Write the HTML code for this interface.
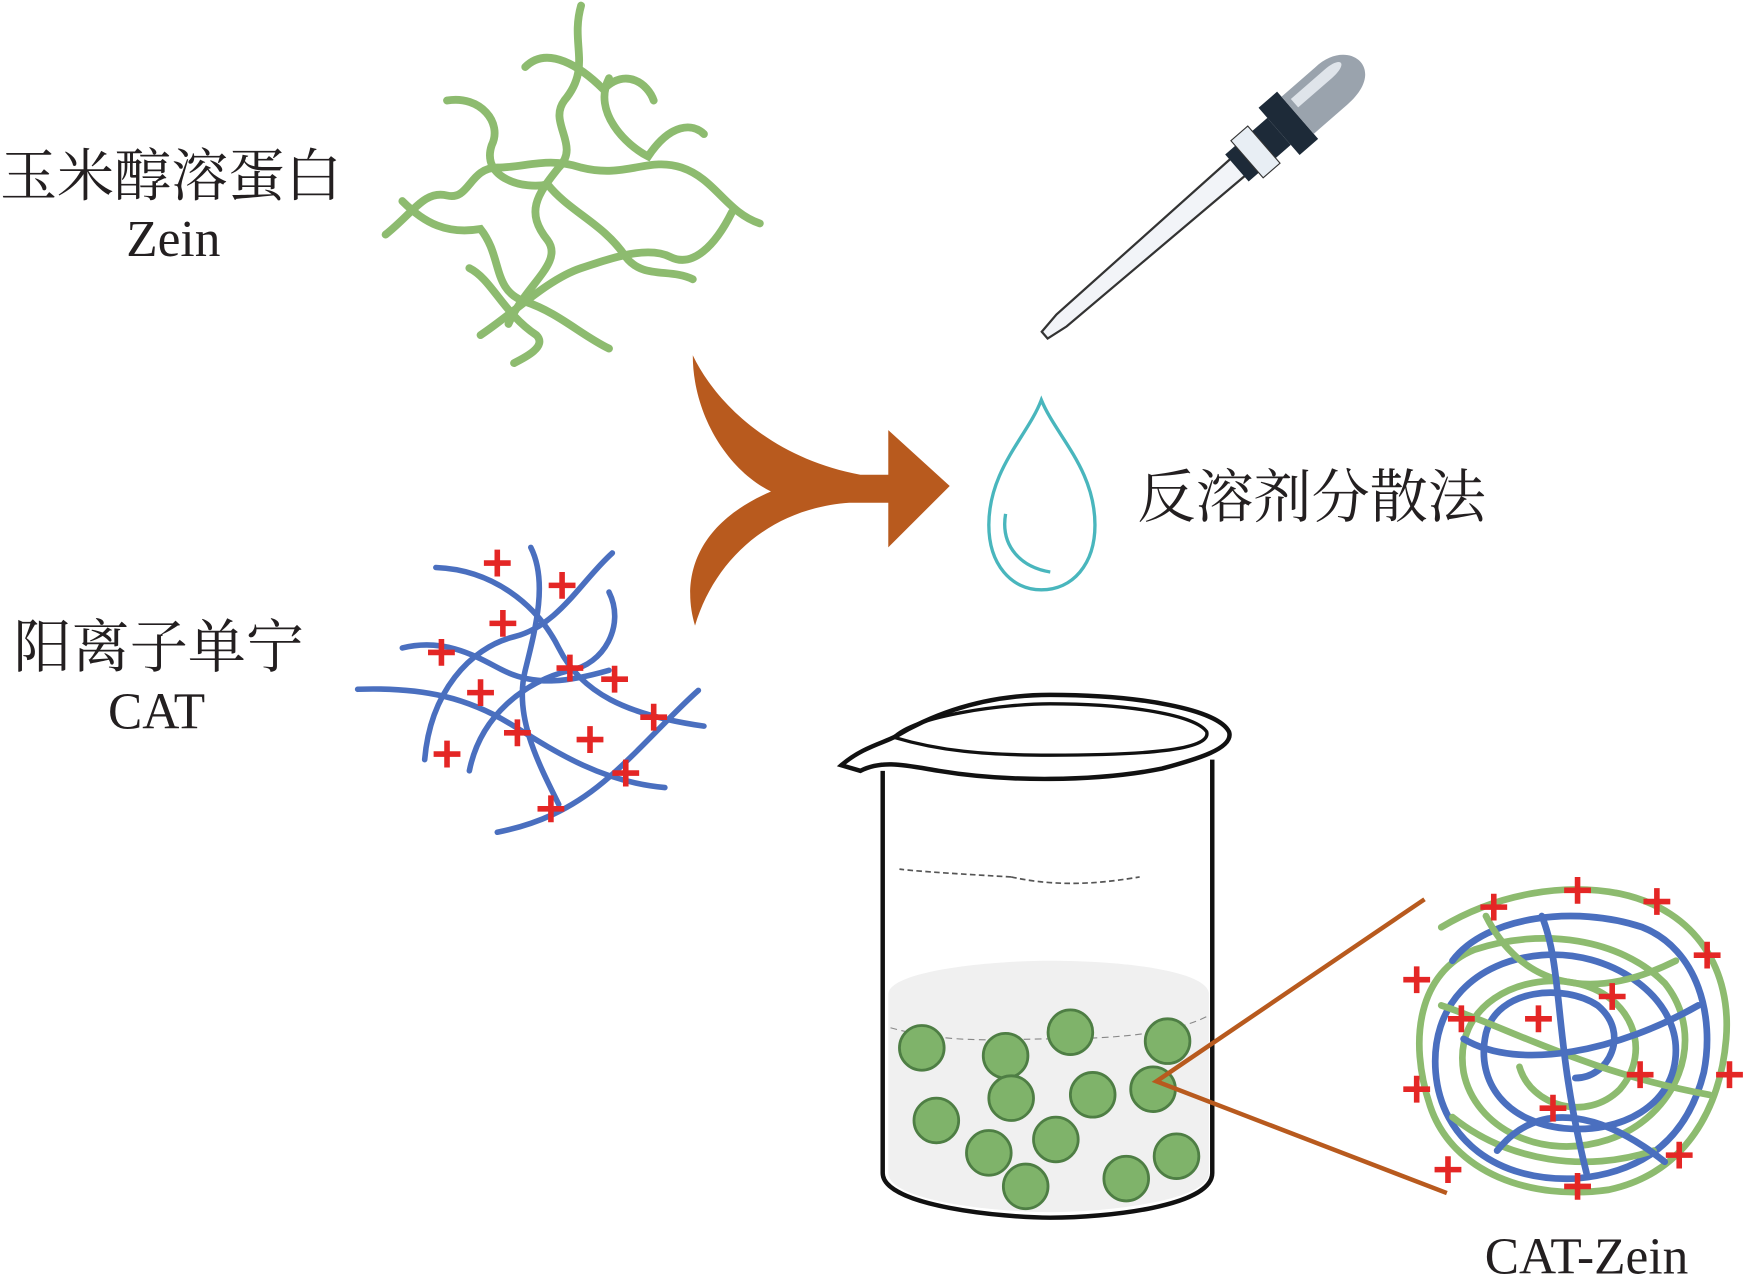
<!DOCTYPE html>
<html><head><meta charset="utf-8"><style>
html,body{margin:0;padding:0;background:#fff;width:1752px;height:1278px;overflow:hidden}
svg{display:block}
text{font-family:"Liberation Serif","Noto Serif CJK SC",serif;fill:#231f20}
</style></head><body>
<svg width="1752" height="1278" viewBox="0 0 1568 1144" xmlns="http://www.w3.org/2000/svg">
<text x="0" y="175" font-size="51">玉米醇溶蛋白</text>
<text x="155" y="229" font-size="46" text-anchor="middle">Zein</text>
<text x="12" y="597" font-size="52">阳离子单宁</text>
<text x="140" y="652" font-size="46" text-anchor="middle">CAT</text>
<text x="1018" y="463" font-size="52">反溶剂分散法</text>
<text x="1420" y="1140" font-size="46" text-anchor="middle">CAT-Zein</text>

<!-- zein strands -->
<g fill="none" stroke="#8dbb6f" stroke-width="7" stroke-linecap="round">
<path d="M520 5 C510 40 530 60 505 90 C490 110 520 130 500 150 C480 175 470 190 490 215 C505 235 470 255 455 290"/>
<path d="M345 210 C370 190 380 170 400 175 C420 180 420 150 445 150 C470 150 490 140 520 150 C560 160 580 140 610 150 C640 160 650 190 680 200"/>
<path d="M400 90 C430 85 450 110 440 130 C430 160 470 170 490 165 C510 190 540 200 560 230 C575 250 600 240 620 250"/>
<path d="M470 60 C490 40 520 60 540 80 C560 60 580 75 585 90"/>
<path d="M360 180 C380 200 400 210 430 205 C450 230 440 260 470 270 C500 280 520 300 545 312"/>
<path d="M430 300 C460 280 490 250 520 240 C550 230 580 220 600 230 C620 240 640 220 655 190"/>
<path d="M545 70 C530 100 560 130 580 140 C600 110 620 110 630 120"/>
<path d="M420 240 C440 250 450 280 480 300 C490 310 470 320 460 325"/>
</g>

<!-- CAT strands -->
<g fill="none" stroke="#4a6fbf" stroke-width="5" stroke-linecap="round">
<path d="M320 617 C380 615 420 625 460 650 C500 675 540 700 595 705"/>
<path d="M390 508 C440 510 480 540 500 580 C520 620 560 640 630 650"/>
<path d="M445 745 C480 738 510 725 540 700 C570 675 600 640 625 618"/>
<path d="M380 680 C385 620 420 580 460 570 C500 560 520 520 548 495"/>
<path d="M420 690 C430 640 470 610 510 600 C540 595 560 560 545 530"/>
<path d="M475 490 C490 520 480 560 470 600 C460 640 480 680 500 720"/>
<path d="M360 580 C400 570 430 590 450 600 C480 615 510 610 545 600"/>
</g>
<g fill="none" stroke="#e42625" stroke-width="5">
<path d="M445 492v24M433 504h24M503 512v24M491 524h24M450 546v24M438 558h24M395 572v24M383 584h24M510 586v24M498 598h24M550 596v24M538 608h24M430 608v24M418 620h24M585 630v24M573 642h24M463 644v24M451 656h24M528 650v24M516 662h24M400 663v24M388 675h24M560 680v24M548 692h24M493 712v24M481 724h24"/>
</g>

<!-- orange curved arrow -->
<path d="M620 318 C640 360 690 410 770 425 L795 425 L795 385 L850 435 L795 490 L795 450 L760 450 C690 455 640 500 622 560 C610 520 620 470 690 440 C650 420 620 370 620 318 Z" fill="#b85a1e"/>

<!-- dropper -->
<g transform="translate(935 300) rotate(-41)">
<path d="M0 -4 L20 -7 L230 -10 L230 10 L20 7 L0 4 Z" fill="#f2f4f8" stroke="#333" stroke-width="2"/>
<rect x="228" y="-16" width="50" height="32" fill="#1d2a38"/>
<rect x="240" y="-22" width="20" height="44" fill="#e8eef4" stroke="#333" stroke-width="1"/>
<rect x="278" y="-28" width="22" height="56" fill="#1d2a38"/>
<path d="M300 -22 L340 -22 C380 -24 390 22 340 22 L300 22 Z" fill="#9aa3ad"/>
<path d="M305 -15 L345 -15 C365 -15 365 -5 345 -5 L305 -5Z" fill="#dfe4ea"/>
</g>

<!-- drop -->
<path d="M932 358 C920 390 885 420 885 470 C885 505 905 528 932 528 C960 528 980 505 980 470 C980 420 945 390 932 358 Z" fill="#fff" stroke="#49b6bd" stroke-width="3"/>
<path d="M900 460 C895 490 915 508 940 512" fill="none" stroke="#49b6bd" stroke-width="3"/>

<!-- beaker -->
<path d="M790 690 L790 1050 C790 1080 900 1090 940 1090 C990 1090 1085 1080 1085 1050 L1085 680" fill="none" stroke="#111" stroke-width="4"/>
<path d="M795 890 C795 870 880 860 940 860 C1010 860 1082 870 1082 890 L1082 1050 C1082 1075 990 1085 940 1085 C890 1085 795 1075 795 1050 Z" fill="#f0f0f0"/>
<path d="M797 920 C850 935 900 930 940 930 C1000 930 1050 925 1080 910" fill="none" stroke="#888" stroke-width="1" stroke-dasharray="6 4"/>
<path d="M753 685 C770 670 790 665 800 660 C850 630 900 622 940 622 C1020 622 1090 635 1100 655 C1105 670 1070 680 1040 688 C980 700 900 700 840 690 C810 685 790 680 770 690 Z" fill="#fff" stroke="#111" stroke-width="4"/>
<path d="M800 660 C820 640 900 630 940 630 C1010 630 1070 640 1080 655 C1085 672 1020 676 940 676 C880 676 840 672 800 660 Z" fill="none" stroke="#111" stroke-width="3"/>
<path d="M905 785 C950 795 990 790 1020 785" fill="none" stroke="#555" stroke-width="1.5" stroke-dasharray="5 3"/>
<path d="M905 785 C870 783 820 780 805 778" fill="none" stroke="#555" stroke-width="1.5" stroke-dasharray="5 3"/>
<g fill="#7fb36a" stroke="#4e7e44" stroke-width="2.5">
<circle cx="825" cy="938" r="20"/><circle cx="900" cy="945" r="20"/><circle cx="958" cy="924" r="20"/><circle cx="1045" cy="932" r="20"/>
<circle cx="905" cy="983" r="20"/><circle cx="978" cy="980" r="20"/><circle cx="1032" cy="975" r="20"/><circle cx="838" cy="1003" r="20"/>
<circle cx="885" cy="1032" r="20"/><circle cx="945" cy="1020" r="20"/><circle cx="918" cy="1062" r="20"/><circle cx="1008" cy="1055" r="20"/><circle cx="1053" cy="1035" r="20"/>
</g>
<path d="M1275 805 L1035 968 L1295 1068" fill="none" stroke="#b85a1e" stroke-width="4"/>

<!-- CAT-Zein blob -->
<g fill="none" stroke-width="6" stroke-linecap="round">
<path stroke="#8dbb6f" d="M1290 830 C1340 800 1400 790 1450 800 C1520 815 1550 870 1545 930 C1540 990 1510 1050 1440 1065 C1370 1075 1300 1050 1280 990 C1260 930 1270 870 1320 850 C1380 830 1450 840 1490 880 C1530 930 1500 1000 1440 1020 C1380 1040 1320 1010 1310 960 C1300 900 1360 870 1410 880 C1460 890 1480 940 1450 975 C1420 1005 1370 990 1360 955"/>
<path stroke="#4a6fbf" d="M1300 860 C1330 820 1410 810 1470 830 C1520 850 1535 910 1525 960 C1510 1020 1470 1050 1410 1055 C1340 1058 1290 1020 1285 960 C1280 900 1320 860 1380 855 C1440 850 1500 890 1500 940 C1500 990 1450 1015 1400 1010 C1350 1005 1320 970 1330 925 C1340 885 1400 880 1430 900 C1460 925 1440 965 1410 965"/>
<path stroke="#8dbb6f" d="M1300 1000 C1350 1040 1420 1050 1480 1030 M1330 820 C1360 880 1420 900 1500 860 M1290 900 C1350 920 1420 960 1530 980"/>
<path stroke="#4a6fbf" d="M1310 930 C1360 960 1450 940 1520 900 M1340 1030 C1380 980 1440 1000 1490 1040 M1380 820 C1400 870 1390 930 1420 1050"/>
</g>
<g fill="none" stroke="#e42625" stroke-width="5">
<path d="M1337 800v24M1325 812h24M1412 785v24M1400 797h24M1483 795v24M1471 807h24M1528 843v24M1516 855h24M1268 865v24M1256 877h24M1308 900v24M1296 912h24M1377 900v24M1365 912h24M1443 880v24M1431 892h24M1468 950v24M1456 962h24M1548 950v24M1536 962h24M1268 963v24M1256 975h24M1390 980v24M1378 992h24M1503 1022v24M1491 1034h24M1296 1035v24M1284 1047h24M1412 1050v24M1400 1062h24"/>
</g>
</svg>
</body></html>
